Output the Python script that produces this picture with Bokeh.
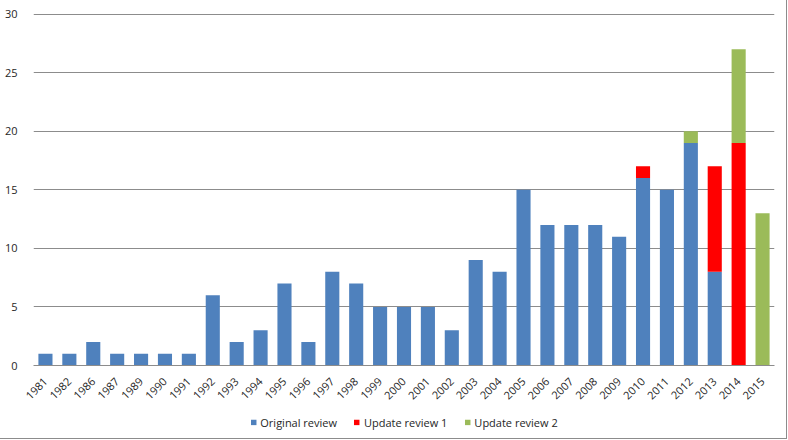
from math import pi
from bokeh.plotting import figure
from bokeh.layouts import column
from bokeh.models import ColumnDataSource, FactorRange, Range1d, Legend, LegendItem, SingleIntervalTicker
from bokeh.embed import file_html
from bokeh.resources import INLINE

years = ["1981", "1982", "1986", "1987", "1989", "1990", "1991", "1992", "1993", "1994",
         "1995", "1996", "1997", "1998", "1999", "2000", "2001", "2002", "2003", "2004",
         "2005", "2006", "2007", "2008", "2009", "2010", "2011", "2012", "2013", "2014", "2015"]
original = [1, 1, 2, 1, 1, 1, 1, 6, 2, 3, 7, 2, 8, 7, 5, 5, 5, 3, 9, 8,
            15, 12, 12, 12, 11, 16, 15, 19, 8, 0, 0]
update1 = [0] * 25 + [1, 0, 0, 9, 19, 0]
update2 = [0] * 27 + [1, 0, 8, 13]

series = ["Original review", "Update review 1", "Update review 2"]
colors = ["#4F81BD", "#FF0000", "#9BBB59"]

source = ColumnDataSource(data={"years": years, "Original review": original,
                                "Update review 1": update1, "Update review 2": update2})

FONT = "Open Sans"
TXT = "#262626"
W = 786

p = figure(x_range=FactorRange(*years), y_range=Range1d(0, 30.05),
           width=W, height=405, output_backend="svg", toolbar_location=None,
           min_border_left=33, min_border_right=12, min_border_top=13, min_border_bottom=40)

rs = p.vbar_stack(series, x="years", width=0.59, color=colors, source=source, line_width=0)

p.outline_line_color = None
p.xgrid.grid_line_color = None
p.ygrid.grid_line_color = "#8C8C8C"
p.ygrid.grid_line_width = 1

p.yaxis.ticker = SingleIntervalTicker(interval=5)
p.yaxis.axis_line_color = None
p.yaxis.major_tick_line_color = None
p.yaxis.minor_tick_line_color = None
p.yaxis.major_label_text_font = FONT
p.yaxis.major_label_text_font_size = "11px"
p.yaxis.major_label_text_color = TXT
p.yaxis.major_label_standoff = 10

p.xaxis.axis_line_color = "#8C8C8C"
p.xaxis.major_tick_line_color = None
p.xaxis.minor_tick_line_color = None
p.xaxis.major_label_orientation = pi / 4
p.xaxis.major_label_text_font = FONT
p.xaxis.major_label_text_font_size = "11px"
p.xaxis.major_label_text_color = TXT
p.xaxis.major_label_standoff = 8

# legend strip below the chart (bars drawn out of its visible range, only used as legend glyphs)
lf = figure(width=W, height=33, output_backend="svg", toolbar_location=None,
            x_range=FactorRange(*years), y_range=Range1d(100, 101),
            min_border=0, min_border_left=0, min_border_right=0,
            min_border_top=0, min_border_bottom=0)
lf.axis.visible = False
lf.grid.visible = False
lf.outline_line_color = None
lrs = lf.vbar_stack(series, x="years", width=0.59, color=colors, source=source, line_width=0)

legend = Legend(items=[LegendItem(label=s, renderers=[r]) for s, r in zip(series, lrs)],
                orientation="horizontal", location="center")
legend.label_text_font = FONT
legend.label_text_font_size = "11px"
legend.label_text_color = TXT
legend.border_line_color = None
legend.background_fill_alpha = 0
legend.glyph_width = 7
legend.glyph_height = 7
legend.spacing = 16
legend.label_standoff = 4
legend.padding = 4
legend.margin = 0
lf.add_layout(legend, "center")

layout = column(p, lf, spacing=0)
layout.styles = {"outline": "1px solid #8C8C8C"}

open("out.html", "w").write(file_html(layout, INLINE))
